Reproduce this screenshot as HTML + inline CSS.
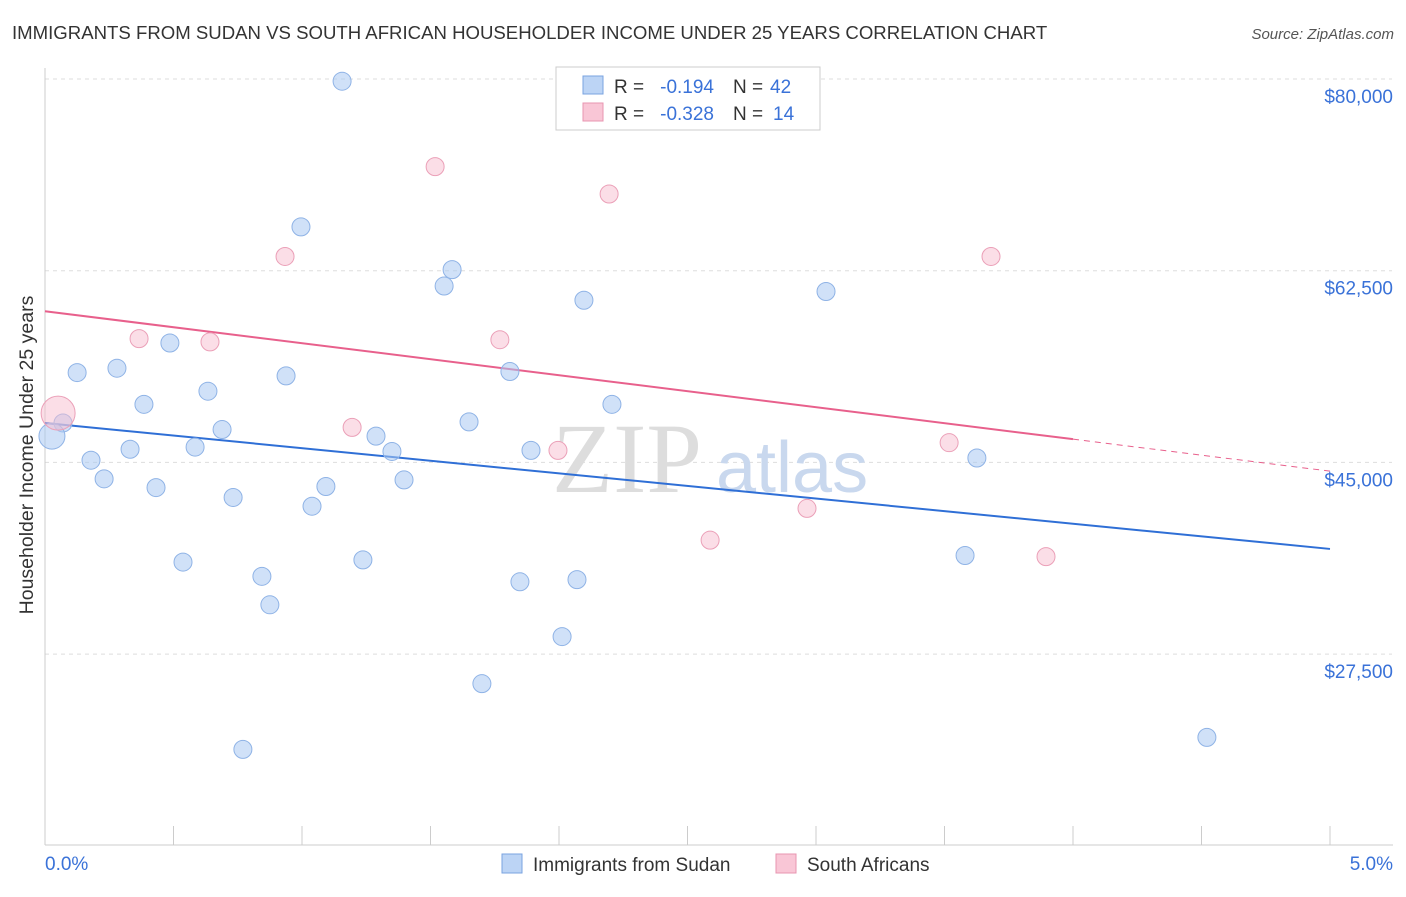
<!DOCTYPE html>
<html><head><meta charset="utf-8"><style>
body{margin:0;background:#fff;font-family:"Liberation Sans",sans-serif;}
svg text{font-family:"Liberation Sans",sans-serif;}
</style></head><body>
<svg id="c" width="1406" height="892" xmlns="http://www.w3.org/2000/svg">
<text x="12" y="39" font-size="18.6" fill="#333">IMMIGRANTS FROM SUDAN VS SOUTH AFRICAN HOUSEHOLDER INCOME UNDER 25 YEARS CORRELATION CHART</text>
<text x="1394" y="39" font-size="15" fill="#555" font-style="italic" text-anchor="end">Source: ZipAtlas.com</text>
<text x="33" y="455" font-size="19.5" fill="#333" text-anchor="middle" transform="rotate(-90 33 455)">Householder Income Under 25 years</text>
<g id="grid"></g>
<g id="ticks"></g>
<text x="552" y="492" font-size="100" fill="#ddd" style="font-family:'Liberation Serif',serif">ZIP</text>
<text x="716" y="492" font-size="72" fill="#c9d8ee">atlas</text>
<g id="lines"></g>
<g id="pts"></g>
<g>
<rect x="556" y="67" width="264" height="63" fill="#fff" stroke="#ccc"/>
<rect x="583" y="76" width="20" height="18" fill="#bcd4f5" stroke="#7aa3e0"/>
<rect x="583" y="103" width="20" height="18" fill="#f9c6d6" stroke="#e895b0"/>
<text x="614" y="93" font-size="19" fill="#333">R =</text>
<text x="714" y="93" font-size="19" fill="#3a72d8" text-anchor="end">-0.194</text>
<text x="733" y="93" font-size="19" fill="#333">N =</text>
<text x="770" y="93" font-size="19" fill="#3a72d8">42</text>
<text x="614" y="120" font-size="19" fill="#333">R =</text>
<text x="714" y="120" font-size="19" fill="#3a72d8" text-anchor="end">-0.328</text>
<text x="733" y="120" font-size="19" fill="#333">N =</text>
<text x="773" y="120" font-size="19" fill="#3a72d8">14</text>
</g>
<g>
<rect x="502" y="854" width="20" height="19" fill="#bcd4f5" stroke="#7aa3e0"/>
<text x="533" y="871" font-size="19" fill="#333">Immigrants from Sudan</text>
<rect x="776" y="854" width="20" height="19" fill="#f9c6d6" stroke="#e895b0"/>
<text x="807" y="871" font-size="19" fill="#333">South Africans</text>
</g>
</svg>
<script>
const blueX=[1.156,0.996,1.584,1.553,2.097,3.039,0.486,0.125,0.280,0.938,1.809,0.634,0.385,2.206,0.070,0.027,1.650,0.689,1.288,0.331,0.584,1.350,1.891,0.179,3.626,0.230,1.397,0.432,1.093,0.732,1.039,0.537,1.237,3.580,0.844,1.848,2.070,0.875,2.012,1.700,0.770,4.521];
const blueY=[79800,66500,62600,61100,59800,60600,55900,53200,53600,52900,53300,51500,50300,50300,48600,47400,48700,48000,47400,46200,46400,46000,46100,45200,45400,43500,43400,42700,42800,41800,41000,35900,36100,36500,34600,34100,34300,32000,29100,24800,18800,19900];
const pinkX=[1.518,2.195,0.934,3.681,0.366,0.642,1.770,0.051,1.195,1.996,3.518,2.965,2.588,3.895];
const pinkY=[72000,69500,63800,63800,56300,56000,56200,49500,48200,46100,46800,40800,37900,36400];
const blueTrend=[48600,37100];
const pinkTrend=[58800,44200];
const pinkSolidEnd=4.0;
const yTicks=[80000,62500,45000,27500];
const yTickLabels=["$80,000","$62,500","$45,000","$27,500"];
const NS="http://www.w3.org/2000/svg";
const X=v=>45+v*257;
const Y=v=>79+(80000-v)/17500*191.7;
function mk(t,a,p){const e=document.createElementNS(NS,t);for(const k in a)e.setAttribute(k,a[k]);p.appendChild(e);return e;}
const grid=document.getElementById('grid'),ticks=document.getElementById('ticks'),lines=document.getElementById('lines'),pts=document.getElementById('pts');
yTicks.forEach((v,i)=>{
 const l=mk('line',{x1:45,x2:1392,y1:Y(v),y2:Y(v),stroke:'#ddd','stroke-dasharray':'4,4'},grid);
 
 
 const t=mk('text',{x:1393,y:Y(v)+24,'font-size':19,fill:'#3a72d8','text-anchor':'end'},ticks);
 t.textContent=yTickLabels[i];
 
 
});
mk('line',{x1:45,x2:45,y1:68,y2:845,stroke:'#ccc'},ticks);
mk('line',{x1:45,x2:1393,y1:845,y2:845,stroke:'#ccc'},ticks);
for(let i=0;i<=10;i++){mk('line',{x1:X(i*0.5),x2:X(i*0.5),y1:826,y2:845,stroke:'#ccc'},ticks);}
let t0=mk('text',{x:45,y:870,'font-size':19,fill:'#3a72d8'},ticks);t0.textContent='0.0%';


let t1=mk('text',{x:1393,y:870,'font-size':19,fill:'#3a72d8','text-anchor':'end'},ticks);t1.textContent='5.0%';


const slope=(pinkTrend[1]-pinkTrend[0])/5;
let bl=mk('line',{x1:X(0),y1:Y(blueTrend[0]),x2:X(5),y2:Y(blueTrend[1]),stroke:'#2f6fd6','stroke-width':2},lines);


let pl=mk('line',{x1:X(0),y1:Y(pinkTrend[0]),x2:X(pinkSolidEnd),y2:Y(pinkTrend[0]+slope*pinkSolidEnd),stroke:'#e8608c','stroke-width':2},lines);


let pd=mk('line',{x1:X(pinkSolidEnd),y1:Y(pinkTrend[0]+slope*pinkSolidEnd),x2:X(5),y2:Y(pinkTrend[1]),stroke:'#e8608c','stroke-width':1,'stroke-dasharray':'6,5'},lines);


blueX.forEach((x,i)=>{
 const r=(i===15)?13:9;
 const c=mk('circle',{cx:X(x),cy:Y(blueY[i]),r:r,fill:'rgba(170,200,242,0.55)',stroke:'#8fb3e6','stroke-width':1},pts);
 
 
});
pinkX.forEach((x,i)=>{
 const r=(i===7)?17:9;
 const c=mk('circle',{cx:X(x),cy:Y(pinkY[i]),r:r,fill:'rgba(248,190,208,0.5)',stroke:'#eba0b8','stroke-width':1},pts);
 
 
});
</script>
</body></html>
